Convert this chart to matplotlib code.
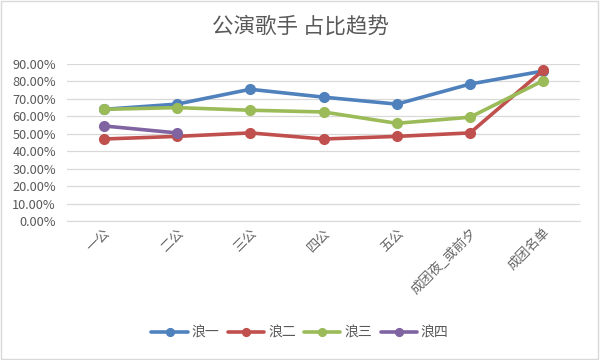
import matplotlib
matplotlib.use("Agg")
import matplotlib.pyplot as plt
from matplotlib.ticker import PercentFormatter, MultipleLocator

plt.rcParams['font.family'] = ['Noto Sans CJK SC', 'DejaVu Sans']

categories = ["一公", "二公", "三公", "四公", "五公", "成团夜_或前夕", "成团名单"]
wave1 = [0.64, 0.67, 0.755, 0.71, 0.67, 0.785, 0.86]
wave2 = [0.47, 0.485, 0.505, 0.47, 0.485, 0.505, 0.865]
wave3 = [0.64, 0.65, 0.635, 0.625, 0.56, 0.595, 0.805]
wave4 = [0.545, 0.505]
series_names = ["浪一", "浪二", "浪三", "浪四"]
colors = ["#4F81BD", "#C0504D", "#9BBB59", "#8064A2"]

fig = plt.figure(figsize=(6, 3.6), dpi=100)
ax = fig.add_axes([67/600, 1-221/360, (580-67)/600, (221-64)/360])

x = list(range(len(categories)))
for vals, name, c in zip([wave1, wave2, wave3, wave4], series_names, colors):
    ax.plot(x[:len(vals)], vals, color=c, lw=2.6, marker='o', ms=7, label=name,
            solid_capstyle='round', zorder=3)

ax.set_xlim(-0.5, len(categories)-0.5)
ax.set_ylim(0, 0.9)
ax.yaxis.set_major_locator(MultipleLocator(0.1))
ax.yaxis.set_major_formatter(PercentFormatter(1.0, decimals=2))
ax.grid(axis='y', color='#D9D9D9', lw=0.9)
ax.set_axisbelow(True)
for s in ['top', 'right', 'left']:
    ax.spines[s].set_visible(False)
ax.spines['bottom'].set_color('#D9D9D9')
ax.tick_params(axis='both', length=0, colors='#595959', labelsize=9.2)
ax.tick_params(axis='y', pad=8)
ax.set_xticks(x)
ax.set_xticklabels(categories, rotation=45, ha='right', va='top',
                   rotation_mode='anchor', fontsize=9.5, color='#666666')

fig.text(0.5, 1-27/360, "公演歌手 占比趋势", ha='center', va='center',
         fontsize=15.5, color='#595959')

leg = fig.legend(loc='center', bbox_to_anchor=(0.5, 1-333/360), ncol=4,
                 frameon=False, fontsize=10, handlelength=2.6, markerscale=0.8,
                 columnspacing=0.6, handletextpad=0.3, labelcolor='#595959')

border = plt.Rectangle((0.002, 0.003), 0.995, 0.994, transform=fig.transFigure,
                       fill=False, edgecolor='#D9D9D9', lw=1)
fig.add_artist(border)

fig.savefig("out.png", dpi=100, facecolor='white')
